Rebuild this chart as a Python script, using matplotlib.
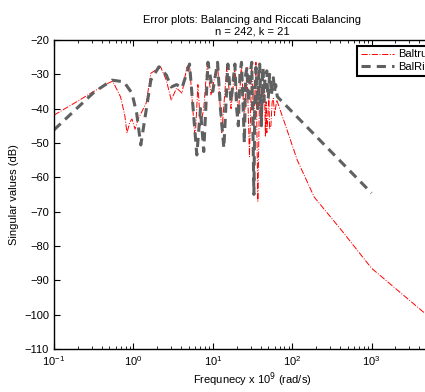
import matplotlib
matplotlib.use("Agg")
import matplotlib.pyplot as plt
import numpy as np

plt.rcParams['font.family'] = ['Liberation Sans', 'DejaVu Sans']

# Baltrunc error (red, dash-dot)
bt_freq = [0.1, 0.2, 0.3, 0.49, 0.55, 0.69, 0.78, 0.83, 0.9, 0.96, 1.05, 1.15,
           1.45, 1.66, 2.2, 2.6, 3.0, 3.5, 4.1, 4.7, 5.1, 5.6, 6.0, 6.5, 7.0,
           7.7, 8.5, 9.5, 11.5, 13, 15, 17, 19, 21, 23, 25, 27, 29, 31, 33, 35,
           37, 39, 40, 41, 42, 43, 45, 46, 47, 48, 50, 51, 52, 54, 56, 58, 60, 64,
           80, 116, 190, 417, 1000, 4680, 10000]
bt_db = [-41.9, -37.8, -35.3, -32.5, -32.0, -36.6, -42.0, -47.1, -44.0, -43.0, -46.0, -43.0,
         -38.4, -29.7, -27.8, -31.7, -37.5, -34.0, -35.5, -28.0, -27.0, -40.0, -49.0, -33.0, -45.0,
         -40.0, -27.0, -36.0, -27.0, -47.0, -28.0, -40.0, -28.0, -42.0, -27.0, -44.0, -28.0, -54.0,
         -28.0, -45.0, -26.5, -67.0, -32.0, -42.0, -36.0, -44.0, -33.0, -35.0, -48.0, -38.0, -47.0,
         -40.0, -37.0, -46.0, -45.0, -38.0, -37.0, -42.0, -37.5,
         -44.0, -55.0, -65.8, -75.4, -86.5, -99.6, -105.0]

# BalRiccati error (grey, dashed)
br_freq = [0.1, 0.32, 0.54, 0.76, 0.96, 1.1, 1.24, 1.45, 1.66, 2.1, 2.6, 3.0, 3.5,
           4.1, 5.1, 6.3, 7.0, 7.7, 8.7, 10, 11.5, 12.5, 13.8, 15.5, 17, 19, 20, 21,
           22, 23, 24, 25, 26, 27, 28, 29, 30, 31, 32, 33, 34, 35, 36, 37, 38, 39,
           40, 41, 42, 43, 44, 45, 46, 48, 49, 50, 52, 53, 55, 56, 58, 60, 62, 65, 1000]
br_db = [-46.2, -35.2, -31.7, -32.2, -35.5, -41.3, -50.6, -40.4, -31.7, -27.8, -30.2, -33.7, -33.0,
         -34.0, -27.0, -53.5, -40.0, -52.5, -26.5, -35.0, -26.5, -40.0, -51.5, -27.0, -38.0, -27.0,
         -40.0, -45.0, -30.0, -26.5, -38.0, -50.0, -30.0, -28.0, -38.0, -35.0, -29.0, -26.5, -45.0,
         -65.0, -35.0, -28.0, -33.0, -40.0, -30.0, -27.0, -36.0, -45.0, -32.0, -28.0, -38.0, -33.0,
         -30.0, -29.0, -35.0, -37.0, -30.0, -31.0, -36.0, -33.0, -31.0, -35.0, -33.0, -36.5, -64.6]

fig = plt.figure(figsize=(4.25, 3.92), dpi=100)
ax = fig.add_axes([0.127, 0.110, 0.934, 0.788])

ax.semilogx(bt_freq, bt_db, color='red', linestyle='-.', linewidth=0.7, label='Baltrunc')
ax.semilogx(br_freq, br_db, color='#606060', linestyle=(0, (3, 2)), linewidth=2.2, label='BalRiccati')

ax.set_xlim(1e-1, 1e4)
ax.set_ylim(-110, -20)
ax.set_yticks(np.arange(-110, -19, 10))
ax.set_xticks([1e-1, 1e0, 1e1, 1e2, 1e3, 1e4])
ax.tick_params(which='both', direction='in', top=True, right=True, labelsize=8)
ax.tick_params(which='major', length=4)
ax.tick_params(which='minor', length=2)
for s in ax.spines.values():
    s.set_linewidth(1.0)

ax.set_title("Error plots: Balancing and Riccati Balancing\nn = 242, k = 21", fontsize=8, pad=4)
ax.set_xlabel("Frequnecy x 10$^9$ (rad/s)", fontsize=8, labelpad=2)
ax.set_ylabel("Singular values (dB)", fontsize=8, labelpad=4)

leg = ax.legend(loc='upper right', bbox_to_anchor=(1.015, 1.0), fontsize=8,
                fancybox=False, framealpha=1, edgecolor='black',
                handlelength=3.0, handletextpad=0.3, borderpad=0.35, labelspacing=0.25)
leg.get_frame().set_linewidth(1.5)

fig.savefig("out.png", dpi=100)
